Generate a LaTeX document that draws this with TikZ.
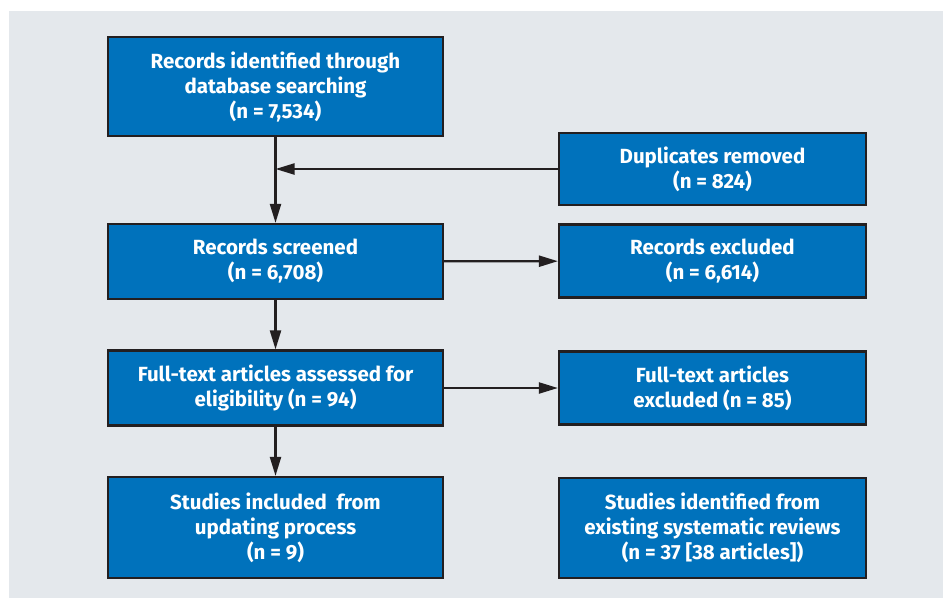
\documentclass[tikz,border=0pt]{standalone}
\usepackage{fontspec}
\setmainfont{Fira Sans}
\usetikzlibrary{arrows.meta}
\definecolor{boxblue}{HTML}{0072BC}
\definecolor{boxedge}{HTML}{231F20}
\definecolor{panel}{HTML}{E4E8EC}
\tikzset{
  box/.style={draw=boxedge, line width=2.2pt, fill=boxblue, text=white,
    font=\bfseries\fontsize{20.5}{25}\selectfont, align=center, inner sep=0pt},
  leftbox/.style={box, minimum width=335pt},
  rightbox/.style={box, minimum width=307pt},
  flow/.style={draw=boxedge, line width=2.2pt, -{Triangle[length=19pt,width=11pt]}}
}
\begin{document}
\begin{tikzpicture}[x=1pt,y=-1pt]
      \useasboundingbox (0,0) rectangle (943,598);
      \fill[panel] (9,11) rectangle (943,598);
      \draw
        (275.5,86.5) node[leftbox, minimum height=99pt] (rec){Records identified through\\database searching\\(n = 7,534)}
        (712.5,169) node[rightbox, minimum height=72pt] (dup){Duplicates removed\\(n = 824)}
        (275.5,261.5) node[leftbox, minimum height=75pt] (scr){Records screened\\(n = 6,708)}
        (712.5,261) node[rightbox, minimum height=73pt] (exc){Records excluded\\(n = 6,614)}
        (275.5,388) node[leftbox, minimum height=75pt] (full){Full-text articles assessed for\\eligibility (n = 94)}
        (712.5,388) node[rightbox, minimum height=73pt] (fexc){Full-text articles\\excluded (n = 85)}
        (275.5,527.5) node[leftbox, minimum height=101pt] (inc){Studies included\ \ from\\updating process\\(n = 9)}
        (712.5,528) node[rightbox, minimum height=100pt] (sys){Studies identified from\\existing systematic reviews\\(n = 37 [38 articles])};
      \coordinate (join) at (rec.south |- dup.west);
      \begin{scope}[flow]
        \draw (rec) to (scr);
        \draw (dup) to (join);
        \draw (scr) to (exc);
        \draw (scr) to (full);
        \draw (full) to (fexc);
        \draw (full) to (inc);
      \end{scope}
    \end{tikzpicture}
\end{document}
